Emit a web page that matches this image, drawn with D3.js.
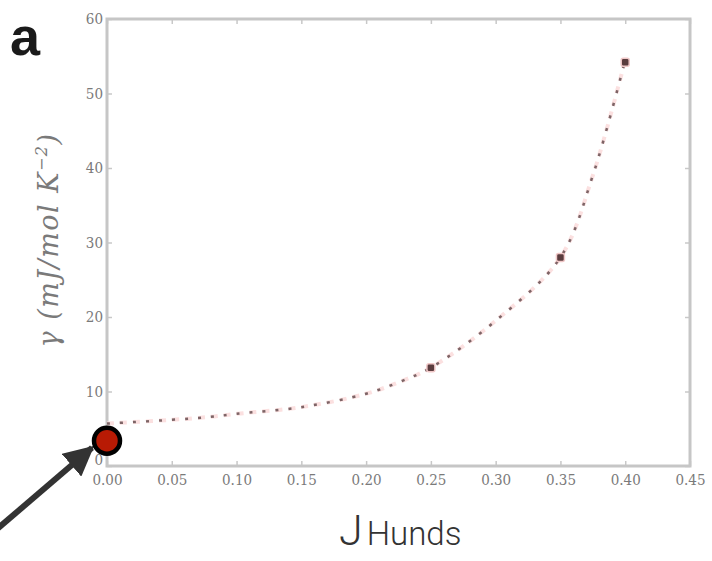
<!DOCTYPE html>
<html>
<head>
<meta charset="utf-8">
<script src="https://cdn.jsdelivr.net/npm/d3@7"></script>
<style>
  body { margin: 0; background: #fff; }
  svg { display: block; }
</style>
</head>
<body>
<div id="chart"></div>
<script>
// values
var fitJ     = [0.00, 0.05, 0.08, 0.10, 0.15, 0.20, 0.226, 0.25, 0.30, 0.35, 0.375, 0.40];
var fitGamma = [5.7, 6.2, 6.6, 7.0, 7.9, 9.7, 11.3, 13.2, 19.5, 28.0, 39.0, 54.5];
var pointJ     = [0.25, 0.35, 0.40];
var pointGamma = [13.2, 28.0, 54.2];
var markJ = [0.0], markGamma = [3.4];
var xTicks = [0, 0.05, 0.10, 0.15, 0.20, 0.25, 0.30, 0.35, 0.40, 0.45];
var yTicks = [0, 10, 20, 30, 40, 50, 60];

var W = 712, H = 561;
var margin = {top: 19, right: 22, bottom: 95, left: 107},
    width = W - margin.left - margin.right,
    height = H - margin.top - margin.bottom;

var svg = d3.select("#chart")
  .append("svg")
    .attr("width", W)
    .attr("height", H);

var g = svg.append("g")
    .attr("transform", "translate(" + margin.left + "," + margin.top + ")");

var x = d3.scaleLinear().domain([0, 0.45]).range([0, width]);
var y = d3.scaleLinear().domain([0, 60]).range([height, 0]);

// axes with inward ticks
g.append("g")
    .attr("transform", "translate(0," + height + ")")
    .call(d3.axisBottom(x).tickValues(xTicks).tickFormat(d3.format(".2f")).tickSize(-5).tickPadding(8));
var yAx = g.append("g")
    .call(d3.axisLeft(y).tickValues(yTicks).tickSize(-5).tickPadding(4));
g.append("g")
    .call(d3.axisTop(x).tickValues(xTicks).tickSize(-5).tickFormat(""));
g.append("g")
    .attr("transform", "translate(" + width + ",0)")
    .call(d3.axisRight(y).tickValues(yTicks).tickSize(-5).tickFormat(""));

g.selectAll(".domain").remove();
g.selectAll(".tick line").attr("stroke", "#c8c8c8").attr("stroke-width", 1.5);
g.selectAll(".tick text")
    .attr("fill", "#7a7a7a")
    .style("font-family", "DejaVu Serif Condensed, DejaVu Serif, serif")
    .style("font-size", "15px");
// the "0" label sits just above the 0.00 one
yAx.selectAll(".tick text").filter(function(d) { return d === 0; }).attr("dy", "-0.1em");

g.append("rect")
    .attr("width", width)
    .attr("height", height)
    .attr("fill", "none")
    .attr("stroke", "#c6c6c6")
    .attr("stroke-width", 3);

// fit curve
var fit = fitJ.map(function(d, i) { return [d, fitGamma[i]]; });
var line = d3.line()
    .x(function(d) { return x(d[0]); })
    .y(function(d) { return y(d[1]); })
    .curve(d3.curveCatmullRom);

g.append("path")
    .datum(fit)
    .attr("d", line)
    .attr("fill", "none")
    .attr("stroke", "#fbe0e0")
    .attr("stroke-width", 4)
    .attr("stroke-dasharray", "7,6");
g.append("path")
    .datum(fit)
    .attr("d", line)
    .attr("fill", "none")
    .attr("stroke", "#7d6466")
    .attr("stroke-width", 2.5)
    .attr("stroke-dasharray", "3,10");

g.selectAll(".pt")
    .data(pointJ)
    .enter()
    .append("rect")
      .attr("class", "pt")
      .attr("x", function(d) { return x(d) - 4; })
      .attr("y", function(d, i) { return y(pointGamma[i]) - 4; })
      .attr("width", 8)
      .attr("height", 8)
      .attr("rx", 2)
      .attr("fill", "#5a3c3e")
      .attr("stroke", "#f0c8c8")
      .attr("stroke-width", 1.5);

// annotation
var mx = margin.left + x(markJ[0]), my = margin.top + y(markGamma[0]);

svg.append("defs").append("marker")
    .attr("id", "head")
    .attr("viewBox", "0 0 10 10")
    .attr("refX", 9).attr("refY", 5)
    .attr("markerWidth", 5).attr("markerHeight", 5)
    .attr("markerUnits", "strokeWidth")
    .attr("orient", "auto")
  .append("path")
    .attr("d", "M0,0 L10,5 L0,10 Z")
    .attr("fill", "#333");

svg.append("line")
    .attr("x1", -4).attr("y1", 530)
    .attr("x2", mx - 15).attr("y2", my + 7)
    .attr("stroke", "#333")
    .attr("stroke-width", 6)
    .attr("marker-end", "url(#head)");

svg.selectAll(".mark")
    .data(markJ)
    .enter()
    .append("circle")
      .attr("cx", function(d) { return margin.left + x(d); })
      .attr("cy", function(d, i) { return margin.top + y(markGamma[i]); })
      .attr("r", 13)
      .attr("fill", "#b81a04")
      .attr("stroke", "#000")
      .attr("stroke-width", 4.5);

// labels
svg.append("text")
    .attr("x", 10).attr("y", 55)
    .style("font-family", "Liberation Sans, Arial, sans-serif")
    .style("font-size", "54px")
    .style("font-weight", "bold")
    .attr("fill", "#1a1a1a")
    .text("a");

var yl = svg.append("text")
    .attr("transform", "translate(58,240) rotate(-90)")
    .attr("text-anchor", "middle")
    .style("font-family", "DejaVu Serif, serif")
    .style("font-style", "italic")
    .style("font-size", "27px")
    .style("letter-spacing", "1.5px")
    .attr("fill", "#7a7a7a");
yl.append("tspan").text("γ (mJ/mol K");
yl.append("tspan").attr("dy", -11).style("font-size", "16px").text("−2");
yl.append("tspan").attr("dy", 11).text(")");

var xl = svg.append("text")
    .attr("x", 339).attr("y", 545)
    .style("font-family", "Roboto, sans-serif")
    .style("font-weight", 300)
    .attr("fill", "#333");
xl.append("tspan").style("font-size", "43px").text("J");
xl.append("tspan").attr("dx", 4).style("font-size", "33px").text("Hunds");
</script>
</body>
</html>
